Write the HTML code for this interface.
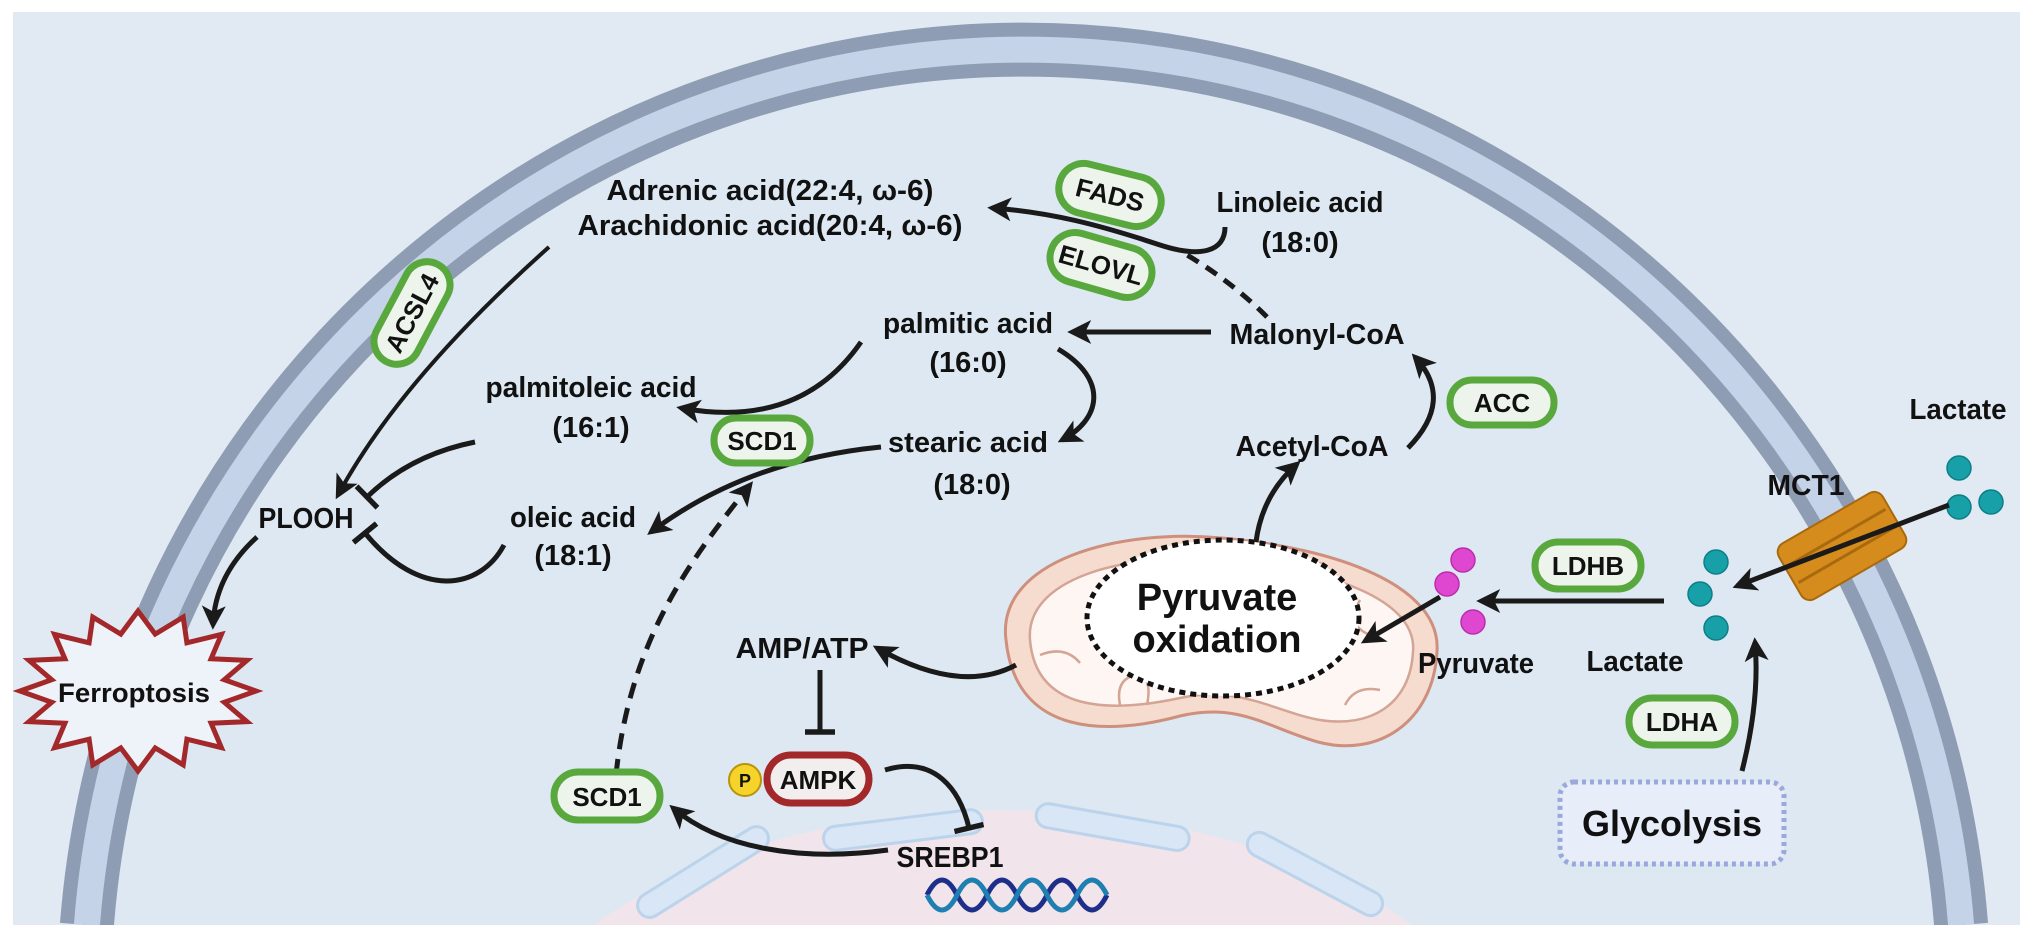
<!DOCTYPE html>
<html><head><meta charset="utf-8"><style>
html,body{margin:0;padding:0;background:#fff;width:2032px;height:937px;overflow:hidden;}
svg{display:block;}
text{font-family:"Liberation Sans Narrow","Liberation Sans",sans-serif;font-weight:bold;fill:#111;}
</style></head><body>
<svg width="2032" height="937" viewBox="0 0 2032 937" xmlns="http://www.w3.org/2000/svg">
<defs>
<marker id="ah" viewBox="0 0 10 10" refX="8" refY="5" markerWidth="24" markerHeight="24" markerUnits="userSpaceOnUse" orient="auto">
<path d="M0,0 L10,5 L0,10 L2.5,5 z" fill="#1a1a1a"/></marker>
<marker id="tb" viewBox="0 0 10 10" refX="5" refY="5" markerWidth="30" markerHeight="30" markerUnits="userSpaceOnUse" orient="auto">
<path d="M5,0 V10" stroke="#1a1a1a" stroke-width="1.8"/></marker>
<clipPath id="panel"><rect x="13" y="12" width="2007" height="913"/></clipPath>
</defs>
<rect x="13" y="12" width="2007" height="913" fill="#e1eaf3"/>
<g clip-path="url(#panel)">
<path d="M86.9,925 A940,950 0 0 1 1961.1,925 Z" fill="#dde8f2"/>
<path d="M86.9,925 A940,950 0 0 1 1961.1,925" fill="none" stroke="#8f9db4" stroke-width="54"/>
<path d="M86.9,925 A940,950 0 0 1 1961.1,925" fill="none" stroke="#c4d3e7" stroke-width="26"/>
<!-- nucleus -->
<path d="M594,925 A520,300 0 0 1 1412,925 Z" fill="#f1e5eb"/>
<rect x="1035" y="815" width="155" height="24" rx="12" fill="#d8e6f5" stroke="#bcd3ec" stroke-width="3" transform="rotate(10 1112 828)"/>
<rect x="823" y="818" width="160" height="24" rx="12" fill="#d8e6f5" stroke="#bcd3ec" stroke-width="3" transform="rotate(-7 903 830)"/>
<rect x="628" y="860" width="150" height="24" rx="12" fill="#d8e6f5" stroke="#bcd3ec" stroke-width="3" transform="rotate(-32 703 872)"/>
<rect x="1240" y="862" width="150" height="24" rx="12" fill="#d8e6f5" stroke="#bcd3ec" stroke-width="3" transform="rotate(28 1315 874)"/>
</g>
<!-- DNA -->
<path d="M927,895 q15,-30 30,0 t30,0 t30,0 t30,0 t30,0 t30,0" fill="none" stroke="#1d2f8a" stroke-width="5"/>
<path d="M927,895 q15,30 30,0 t30,0 t30,0 t30,0 t30,0 t30,0" fill="none" stroke="#1e7fb0" stroke-width="5"/>

<!-- Ferroptosis star -->
<polygon points="256,691 224.3,702.3 247,721.6 211.1,723.2 221.4,747.6 186.9,739.2 183.2,764.9 155.2,747.9 138,771 120.8,747.9 92.8,764.9 89.1,739.2 54.6,747.6 64.9,723.2 29,721.6 51.7,702.3 20,691 51.7,679.7 29,660.4 64.9,658.8 54.6,634.4 89.1,642.8 92.8,617.1 120.8,634.1 138,611 155.2,634.1 183.2,617.1 186.9,642.8 221.4,634.4 211.1,658.8 247,660.4 224.3,679.7" fill="#eef3fa" stroke="#a3282a" stroke-width="5" stroke-linejoin="miter"/>
<text x="134" y="702" font-size="27" text-anchor="middle" textLength="152" lengthAdjust="spacingAndGlyphs" style="font-family:'Liberation Sans',sans-serif">Ferroptosis</text>

<!-- Mitochondrion -->
<path d="M1006,640 C996,560 1120,528 1222,538 C1335,548 1442,585 1437,652 C1433,722 1378,758 1318,742 C1268,728 1240,702 1180,716 C1110,735 1016,738 1006,640 Z" fill="#f6dccf" stroke="#cf8f7d" stroke-width="3"/>
<path d="M1030,640 C1025,580 1120,552 1222,560 C1325,568 1418,598 1413,652 C1410,705 1370,728 1320,720 C1275,712 1240,685 1180,698 C1110,713 1036,712 1030,640 Z" fill="#fdf6f3" stroke="#d4a494" stroke-width="2.5"/>
<path d="M1040,655 q25,-10 40,8 M1120,705 q-5,-25 15,-30 q18,0 12,30 M1200,690 q0,-25 18,-25 q15,2 10,25 M1280,565 q5,25 25,22 q20,-2 15,-25 M1190,565 q10,22 30,18 M1360,600 q-15,25 10,35 M1380,690 q-25,-5 -35,15" fill="none" stroke="#d4a494" stroke-width="2.5"/>
<ellipse cx="1223" cy="618" rx="136" ry="78" fill="#fff" stroke="#111" stroke-width="5" stroke-dasharray="6 5"/>
<text x="1217" y="610" font-size="38" text-anchor="middle">Pyruvate</text>
<text x="1217" y="652" font-size="38" text-anchor="middle">oxidation</text>

<!-- MCT1 transporter -->
<g transform="rotate(-30 1842 546)">
<rect x="1782" y="514" width="120" height="64" rx="10" fill="#d68c1c" stroke="#a8690f" stroke-width="2"/>
<line x1="1786" y1="536" x2="1898" y2="536" stroke="#a8690f" stroke-width="3"/>
<line x1="1786" y1="556" x2="1898" y2="556" stroke="#a8690f" stroke-width="3"/>
</g>

<!-- dots -->
<g fill="#e047d0" stroke="#b92fae" stroke-width="1.5">
<circle cx="1463" cy="560" r="12"/><circle cx="1447" cy="584" r="12"/><circle cx="1473" cy="622" r="12"/></g>
<g fill="#17a0a8" stroke="#0d7f86" stroke-width="1.5">
<circle cx="1716" cy="562" r="12"/><circle cx="1700" cy="594" r="12"/><circle cx="1716" cy="628" r="12"/>
<circle cx="1959" cy="468" r="12"/><circle cx="1959" cy="507" r="12"/><circle cx="1991" cy="502" r="12"/></g>

<!-- Glycolysis box -->
<rect x="1560" y="782" width="224" height="82" rx="14" fill="#e7eef9" stroke="#9aa9d9" stroke-width="5" stroke-dasharray="4 4"/>
<text x="1672" y="836" font-size="36" text-anchor="middle">Glycolysis</text>

<!-- connectors -->
<g fill="none" stroke="#1a1a1a" stroke-width="5">
<path d="M1225,227 C1225,252 1200,258 1160,245 C1100,225 1050,212 992,208" marker-end="url(#ah)"/>
<path d="M1267,317 Q1230,280 1182,252" stroke-dasharray="13 9"/>
<path d="M1211,332 L1072,332" marker-end="url(#ah)"/>
<path d="M549,247 Q400,380 338,495" stroke-width="4" marker-end="url(#ah)"/>
<path d="M861,342 Q800,430 681,408" marker-end="url(#ah)"/>
<path d="M1058,349 C1110,380 1100,420 1062,440" marker-end="url(#ah)"/>
<path d="M881,447 C800,455 720,480 651,532" marker-end="url(#ah)"/>
<path d="M616,775 C630,640 690,560 750,485" stroke-dasharray="16 10" marker-end="url(#ah)"/>
<path d="M475,442 Q410,455 367,497" marker-end="url(#tb)"/>
<path d="M504,545 C480,590 420,600 365,533" marker-end="url(#tb)"/>
<path d="M257,537 Q215,575 213,625" marker-end="url(#ah)"/>
<path d="M1016,665 Q960,695 877,648" marker-end="url(#ah)"/>
<path d="M820,670 L820,732" marker-end="url(#tb)"/>
<path d="M885,770 C935,755 960,790 969,828" marker-end="url(#tb)"/>
<path d="M888,850 C800,862 720,848 673,808" marker-end="url(#ah)"/>
<path d="M1256,542 Q1262,495 1297,464" marker-end="url(#ah)"/>
<path d="M1408,448 Q1455,400 1415,357" marker-end="url(#ah)"/>
<path d="M1440,597 L1365,641" marker-end="url(#ah)"/>
<path d="M1664,601 L1481,601" marker-end="url(#ah)"/>
<path d="M1742,771 Q1760,700 1755,642" marker-end="url(#ah)"/>
<path d="M1949,505 L1737,586" marker-end="url(#ah)"/>
</g>

<!-- pills -->
<g font-size="26" text-anchor="middle">
<g transform="translate(412,313) rotate(-62)"><rect x="-55" y="-23" width="110" height="46" rx="23" fill="#edf4ec" stroke="#59a83d" stroke-width="7"/><text x="0" y="9">ACSL4</text></g>
<g transform="translate(1110,195) rotate(14)"><rect x="-52" y="-25" width="104" height="50" rx="25" fill="#edf4ec" stroke="#59a83d" stroke-width="7"/><text x="0" y="9">FADS</text></g>
<g transform="translate(1101,265) rotate(16)"><rect x="-52" y="-25" width="104" height="50" rx="25" fill="#edf4ec" stroke="#59a83d" stroke-width="7"/><text x="0" y="9">ELOVL</text></g>
<g transform="translate(762,440)"><rect x="-48" y="-22" width="96" height="45" rx="22" fill="#edf4ec" stroke="#59a83d" stroke-width="7"/><text x="0" y="10">SCD1</text></g>
<g transform="translate(1502,402)"><rect x="-52" y="-22" width="104" height="45" rx="22" fill="#edf4ec" stroke="#59a83d" stroke-width="7"/><text x="0" y="10">ACC</text></g>
<g transform="translate(1588,565)"><rect x="-53" y="-23" width="106" height="47" rx="23" fill="#edf4ec" stroke="#59a83d" stroke-width="7"/><text x="0" y="10">LDHB</text></g>
<g transform="translate(1682,721)"><rect x="-53" y="-23" width="106" height="47" rx="23" fill="#edf4ec" stroke="#59a83d" stroke-width="7"/><text x="0" y="10">LDHA</text></g>
<g transform="translate(607,796)"><rect x="-53" y="-24" width="106" height="48" rx="24" fill="#edf4ec" stroke="#59a83d" stroke-width="7"/><text x="0" y="10">SCD1</text></g>
<g transform="translate(818,779)"><rect x="-51" y="-24" width="102" height="48" rx="24" fill="#f3eeee" stroke="#a3282a" stroke-width="7"/><text x="0" y="10">AMPK</text></g>
</g>
<circle cx="745" cy="780" r="16" fill="#f5d32a" stroke="#b8940a" stroke-width="2"/>
<text x="745" y="787" font-size="18" text-anchor="middle">P</text>

<!-- labels -->
<g font-size="29" text-anchor="middle">
<text x="770" y="200" textLength="327" lengthAdjust="spacingAndGlyphs">Adrenic acid(22:4, ω-6)</text>
<text x="770" y="235" textLength="385" lengthAdjust="spacingAndGlyphs">Arachidonic acid(20:4, ω-6)</text>
<text x="1300" y="212" textLength="167" lengthAdjust="spacingAndGlyphs">Linoleic acid</text>
<text x="1300" y="252">(18:0)</text>
<text x="968" y="333" textLength="170" lengthAdjust="spacingAndGlyphs">palmitic acid</text>
<text x="968" y="372">(16:0)</text>
<text x="1317" y="344" textLength="175" lengthAdjust="spacingAndGlyphs">Malonyl-CoA</text>
<text x="591" y="397" textLength="211" lengthAdjust="spacingAndGlyphs">palmitoleic acid</text>
<text x="591" y="437">(16:1)</text>
<text x="968" y="452" textLength="160" lengthAdjust="spacingAndGlyphs">stearic acid</text>
<text x="972" y="494">(18:0)</text>
<text x="1312" y="456" textLength="153" lengthAdjust="spacingAndGlyphs">Acetyl-CoA</text>
<text x="306" y="528" textLength="95" lengthAdjust="spacingAndGlyphs">PLOOH</text>
<text x="573" y="527" textLength="126" lengthAdjust="spacingAndGlyphs">oleic acid</text>
<text x="573" y="565">(18:1)</text>
<text x="802" y="658" textLength="133" lengthAdjust="spacingAndGlyphs">AMP/ATP</text>
<text x="950" y="867" textLength="107" lengthAdjust="spacingAndGlyphs">SREBP1</text>
<text x="1476" y="673" textLength="116" lengthAdjust="spacingAndGlyphs">Pyruvate</text>
<text x="1635" y="671" textLength="97" lengthAdjust="spacingAndGlyphs">Lactate</text>
<text x="1806" y="495" textLength="77" lengthAdjust="spacingAndGlyphs">MCT1</text>
<text x="1958" y="419" textLength="97" lengthAdjust="spacingAndGlyphs">Lactate</text>
</g>
</svg>
</body></html>
